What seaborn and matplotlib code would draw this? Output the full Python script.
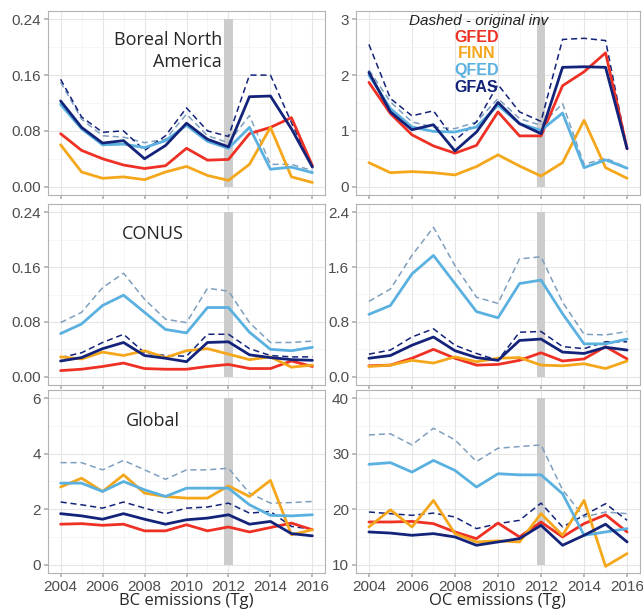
import numpy as np
import pandas as pd
import matplotlib
matplotlib.use('Agg')
import matplotlib.pyplot as plt
import seaborn as sns

years = list(range(2004, 2017))

# BC, Boreal North America
bc_bna_gfed = [0.076, 0.052, 0.040, 0.031, 0.026, 0.030, 0.055, 0.038, 0.039, 0.076, 0.085, 0.099, 0.030]
bc_bna_finn = [0.060, 0.021, 0.012, 0.014, 0.010, 0.021, 0.029, 0.016, 0.009, 0.032, 0.085, 0.014, 0.006]
bc_bna_qfed = [0.118, 0.083, 0.060, 0.061, 0.056, 0.066, 0.088, 0.065, 0.055, 0.085, 0.025, 0.028, 0.020]
bc_bna_gfas = [0.123, 0.085, 0.0625, 0.066, 0.040, 0.059, 0.091, 0.068, 0.057, 0.129, 0.130, 0.083, 0.028]
bc_bna_qfed_orig = [0.150, 0.097, 0.073, 0.071, 0.063, 0.068, 0.104, 0.073, 0.063, 0.102, 0.032, 0.032, 0.023]
bc_bna_gfas_orig = [0.154, 0.100, 0.078, 0.080, 0.052, 0.073, 0.113, 0.080, 0.072, 0.160, 0.160, 0.092, 0.028]

# OC, Boreal North America
oc_bna_gfed = [1.87, 1.31, 0.93, 0.73, 0.60, 0.74, 1.34, 0.91, 0.91, 1.81, 2.06, 2.40, 0.68]
oc_bna_finn = [0.43, 0.25, 0.27, 0.25, 0.21, 0.36, 0.57, 0.37, 0.19, 0.43, 1.19, 0.34, 0.15]
oc_bna_qfed = [2.00, 1.40, 1.07, 0.99, 0.98, 1.07, 1.46, 1.13, 1.01, 1.32, 0.34, 0.48, 0.33]
oc_bna_gfas = [2.05, 1.34, 1.02, 1.11, 0.64, 0.98, 1.51, 1.13, 0.95, 2.14, 2.15, 2.14, 0.68]
oc_bna_qfed_orig = [2.09, 1.52, 1.16, 1.07, 1.04, 1.16, 1.58, 1.22, 1.10, 1.49, 0.40, 0.51, 0.34]
oc_bna_gfas_orig = [2.55, 1.58, 1.27, 1.36, 0.83, 1.16, 1.83, 1.34, 1.17, 2.64, 2.66, 2.62, 0.68]

# BC, CONUS
bc_us_gfed = [0.009, 0.011, 0.015, 0.020, 0.012, 0.011, 0.011, 0.015, 0.018, 0.012, 0.012, 0.023, 0.015]
bc_us_finn = [0.029, 0.026, 0.036, 0.031, 0.038, 0.028, 0.038, 0.041, 0.033, 0.025, 0.029, 0.014, 0.017]
bc_us_qfed = [0.063, 0.077, 0.104, 0.119, 0.094, 0.069, 0.064, 0.101, 0.101, 0.065, 0.040, 0.038, 0.043]
bc_us_gfas = [0.023, 0.028, 0.041, 0.050, 0.031, 0.027, 0.022, 0.050, 0.051, 0.032, 0.028, 0.025, 0.024]
bc_us_qfed_orig = [0.079, 0.094, 0.130, 0.151, 0.113, 0.084, 0.079, 0.129, 0.125, 0.079, 0.050, 0.050, 0.052]
bc_us_gfas_orig = [0.028, 0.035, 0.050, 0.062, 0.035, 0.031, 0.030, 0.062, 0.062, 0.041, 0.031, 0.029, 0.029]

# OC, CONUS
oc_us_gfed = [0.16, 0.17, 0.27, 0.40, 0.27, 0.17, 0.18, 0.24, 0.35, 0.23, 0.26, 0.44, 0.26]
oc_us_finn = [0.15, 0.17, 0.24, 0.20, 0.29, 0.22, 0.27, 0.28, 0.17, 0.16, 0.19, 0.12, 0.23]
oc_us_qfed = [0.91, 1.04, 1.50, 1.77, 1.36, 0.95, 0.86, 1.36, 1.41, 0.92, 0.48, 0.48, 0.55]
oc_us_gfas = [0.27, 0.31, 0.46, 0.58, 0.38, 0.28, 0.24, 0.53, 0.55, 0.36, 0.34, 0.43, 0.39]
oc_us_qfed_orig = [1.10, 1.28, 1.77, 2.18, 1.62, 1.16, 1.07, 1.72, 1.75, 1.09, 0.62, 0.61, 0.66]
oc_us_gfas_orig = [0.33, 0.39, 0.58, 0.70, 0.46, 0.34, 0.24, 0.65, 0.66, 0.44, 0.41, 0.51, 0.51]

# BC, Global
bc_gl_gfed = [1.46, 1.48, 1.42, 1.46, 1.22, 1.22, 1.44, 1.22, 1.36, 1.18, 1.34, 1.50, 1.26]
bc_gl_finn = [2.80, 3.12, 2.64, 3.24, 2.58, 2.46, 2.40, 2.40, 2.84, 2.46, 3.04, 1.08, 1.26]
bc_gl_qfed = [2.94, 2.94, 2.64, 3.00, 2.70, 2.46, 2.76, 2.76, 2.76, 2.16, 1.78, 1.76, 1.80]
bc_gl_gfas = [1.84, 1.76, 1.64, 1.84, 1.64, 1.46, 1.62, 1.68, 1.80, 1.46, 1.56, 1.12, 1.04]
bc_gl_qfed_orig = [3.68, 3.68, 3.42, 3.76, 3.42, 3.08, 3.42, 3.42, 3.48, 2.58, 2.22, 2.24, 2.28]
bc_gl_gfas_orig = [2.26, 2.16, 2.04, 2.26, 2.04, 1.84, 2.04, 2.08, 2.22, 1.86, 1.92, 1.38, 1.28]

# OC, Global
oc_gl_gfed = [17.7, 17.7, 17.8, 17.4, 15.9, 14.7, 17.5, 15.0, 17.7, 15.0, 17.4, 19.0, 15.9]
oc_gl_finn = [16.8, 19.9, 16.8, 21.6, 15.6, 14.1, 14.3, 14.1, 19.2, 15.3, 21.6, 9.7, 12.0]
oc_gl_qfed = [28.1, 28.4, 26.7, 28.8, 27.0, 24.0, 26.4, 26.2, 26.2, 22.8, 15.3, 15.9, 16.5]
oc_gl_gfas = [15.9, 15.7, 15.3, 15.6, 15.0, 13.5, 14.1, 14.7, 17.1, 13.5, 15.3, 17.3, 14.1]
oc_gl_qfed_orig = [33.4, 33.6, 31.6, 34.6, 32.5, 28.6, 31.0, 31.3, 31.6, 23.5, 18.6, 19.5, 19.2]
oc_gl_gfas_orig = [19.5, 19.2, 18.9, 19.3, 18.6, 16.5, 17.4, 18.0, 21.1, 16.8, 18.9, 21.0, 18.0]

inventories = ['GFED', 'FINN', 'QFED', 'GFAS']
colors = {'GFED': '#ee3124', 'FINN': '#f5a71c', 'QFED': '#5ab1e0', 'GFAS': '#14237a'}
dash_colors = {'QFED': '#7f9fbf', 'GFAS': '#14237a'}

panels = [
    # (row, col, solid, dashed, yticks, ticklabels, label)
    (0, 0, [bc_bna_gfed, bc_bna_finn, bc_bna_qfed, bc_bna_gfas], [bc_bna_qfed_orig, bc_bna_gfas_orig],
     [0, 0.08, 0.16, 0.24], ['0.00', '0.08', '0.16', '0.24'], 'Boreal North\nAmerica'),
    (0, 1, [oc_bna_gfed, oc_bna_finn, oc_bna_qfed, oc_bna_gfas], [oc_bna_qfed_orig, oc_bna_gfas_orig],
     [0, 1, 2, 3], ['0', '1', '2', '3'], None),
    (1, 0, [bc_us_gfed, bc_us_finn, bc_us_qfed, bc_us_gfas], [bc_us_qfed_orig, bc_us_gfas_orig],
     [0, 0.08, 0.16, 0.24], ['0.00', '0.08', '0.16', '0.24'], 'CONUS'),
    (1, 1, [oc_us_gfed, oc_us_finn, oc_us_qfed, oc_us_gfas], [oc_us_qfed_orig, oc_us_gfas_orig],
     [0, 0.8, 1.6, 2.4], ['0.0', '0.8', '1.6', '2.4'], None),
    (2, 0, [bc_gl_gfed, bc_gl_finn, bc_gl_qfed, bc_gl_gfas], [bc_gl_qfed_orig, bc_gl_gfas_orig],
     [0, 2, 4, 6], ['0', '2', '4', '6'], 'Global'),
    (2, 1, [oc_gl_gfed, oc_gl_finn, oc_gl_qfed, oc_gl_gfas], [oc_gl_qfed_orig, oc_gl_gfas_orig],
     [10, 20, 30, 40], ['10', '20', '30', '40'], None),
]

sns.set_theme(style='whitegrid')
plt.rcParams['font.family'] = ['Liberation Sans', 'DejaVu Sans']

W, H = 643, 611
fig = plt.figure(figsize=(W / 100, H / 100), dpi=100)

col_px = [(48, 325), (356, 640)]
row_px = [(11, 195), (204, 385), (390, 573)]

for row, col, solid, dashed, yt, ytl, label in panels:
    x0, x1 = col_px[col]
    y0, y1 = row_px[row]
    ax = fig.add_axes([x0 / W, 1 - y1 / H, (x1 - x0) / W, (y1 - y0) / H])
    lo, hi = yt[0], yt[-1]
    pad = (hi - lo) * 0.05
    ax.set_ylim(lo - pad, hi + pad)
    ax.set_xlim(2003.4, 2016.6)

    # gray band marking 2012
    ax.fill_between([2011.8, 2012.2], lo, hi, color='#cccccc', lw=0, zorder=1)

    for name, vals in zip(['QFED', 'GFAS'], dashed):
        sns.lineplot(x=years, y=vals, ax=ax, color=dash_colors[name], lw=1.1,
                     linestyle=(0, (4, 2.5)), zorder=2)
    for name, vals in zip(inventories, solid):
        sns.lineplot(x=years, y=vals, ax=ax, color=colors[name], lw=2.0, zorder=3)

    ax.set_yticks(yt)
    ax.set_yticklabels(ytl)
    ax.set_xticks(range(2004, 2017, 2))
    ax.set_xticks(range(2005, 2017, 2), minor=True)
    ax.set_yticks([(a + b) / 2 for a, b in zip(yt[:-1], yt[1:])], minor=True)
    ax.grid(which='major', color='#e6e6e6', lw=0.8)
    ax.grid(which='minor', color='#f2f2f2', lw=0.5)
    ax.tick_params(axis='both', which='major', labelsize=11, labelcolor='#4d4d4d',
                   length=3, color='#b3b3b3', bottom=True, left=True, pad=2)
    ax.tick_params(which='minor', length=0)
    if row < 2:
        ax.set_xticklabels([])
    for s in ax.spines.values():
        s.set_color('#b3b3b3')
        s.set_linewidth(0.8)
    ax.set_xlabel('')
    ax.set_ylabel('')

    if label is not None:
        if row == 0:
            ax.text(2012.0 - 0.3, hi * 0.93, label, ha='right', va='top', fontsize=13,
                    family='Open Sans', linespacing=1.25)
        else:
            ax.text(2008.4, lo + (hi - lo) * 0.92, label, ha='center', va='top',
                    fontsize=13, family='Open Sans')

    if row == 0 and col == 1:
        ax.text(2009.1, hi * 0.99, 'Dashed - original inv', ha='center', va='center',
                fontsize=11, style='italic', color='#222222', zorder=5)
        for i, name in enumerate(inventories):
            ax.text(2009.0, hi * (0.893 - 0.1 * i), name, ha='center', va='center',
                    fontsize=11.5, fontweight='bold', color=colors[name], zorder=5)

fig.text(186 / W, 1 - 601 / H, 'BC emissions (Tg)', ha='center', va='center',
         fontsize=12, family='Open Sans')
fig.text(497 / W, 1 - 601 / H, 'OC emissions (Tg)', ha='center', va='center',
         fontsize=12, family='Open Sans')

fig.savefig('out.png', dpi=100)
